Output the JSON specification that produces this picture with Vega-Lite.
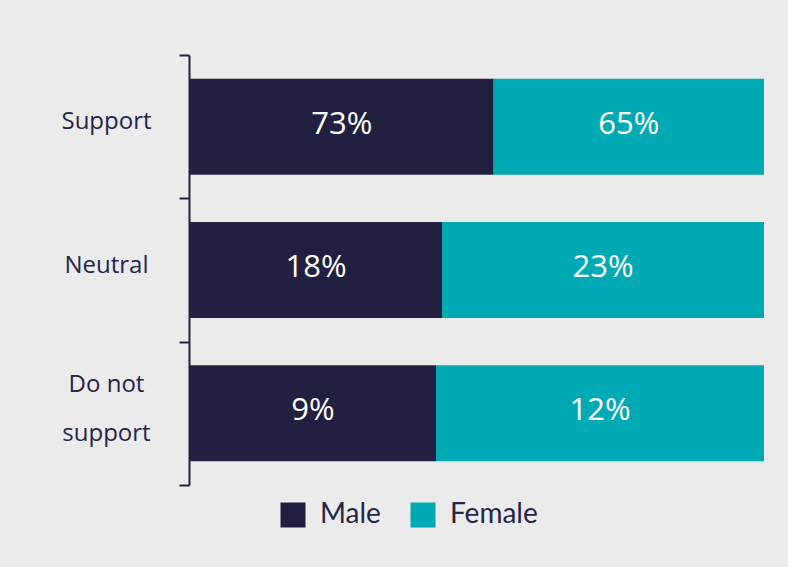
{
  "$schema": "https://vega.github.io/schema/vega-lite/v6.json",
  "autosize": "none",
  "width": 574,
  "height": 430,
  "padding": {"left": 190, "top": 55, "right": 24, "bottom": 82},
  "background": "#ebebeb",
  "config": {"view": {"stroke": null}},
  "data": {
    "values": [
      {"category": "Support", "gender": "Male", "value": 0.73},
      {"category": "Support", "gender": "Female", "value": 0.65},
      {"category": "Neutral", "gender": "Male", "value": 0.18},
      {"category": "Neutral", "gender": "Female", "value": 0.23},
      {"category": "Do not support", "gender": "Male", "value": 0.09},
      {"category": "Do not support", "gender": "Female", "value": 0.12}
    ]
  },
  "encoding": {
    "y": {
      "field": "category",
      "type": "nominal",
      "sort": ["Support", "Neutral", "Do not support"],
      "scale": {"paddingInner": 0, "paddingOuter": 0},
      "axis": {
        "title": null,
        "offset": 1,
        "domainColor": "#22223f",
        "domainWidth": 2,
        "tickColor": "#22223f",
        "tickWidth": 2,
        "tickSize": 10,
        "tickBand": "extent",
        "labelAlign": "center",
        "labelBaseline": "middle",
        "labelPadding": 73,
        "labelOffset": {"condition": {"test": "datum.value == 'Do not support'", "value": -29}, "value": -5},
        "labelFont": "Open Sans",
        "labelFontSize": 24,
        "labelColor": "#25254a",
        "labelLineHeight": 49,
        "labelExpr": "datum.value == 'Do not support' ? ['Do not', 'support'] : datum.value"
      }
    },
    "x": {
      "field": "value",
      "type": "quantitative",
      "stack": "normalize",
      "axis": null
    },
    "order": {"field": "gender", "sort": "descending"}
  },
  "layer": [
    {
      "mark": {"type": "bar", "height": {"band": 0.67}},
      "encoding": {
        "color": {
          "field": "gender",
          "type": "nominal",
          "sort": ["Male", "Female"],
          "scale": {"domain": ["Male", "Female"], "range": ["#212040", "#00aab4"]},
          "legend": {
            "title": null,
            "orient": "none",
            "direction": "horizontal",
            "legendX": 89,
            "legendY": 446,
            "padding": 0,
            "symbolType": "square",
            "symbolSize": 625,
            "symbolStrokeWidth": 0,
            "symbolOpacity": 1,
            "labelFont": "Lato",
            "labelFontSize": 28,
            "labelColor": "#25254a",
            "labelOffset": 13,
            "columnPadding": 28
          }
        }
      }
    },
    {
      "mark": {"type": "text", "color": "white", "font": "Open Sans", "fontSize": 31, "baseline": "middle", "dy": -2},
      "encoding": {
        "x": {
          "field": "value",
          "type": "quantitative",
          "stack": "normalize",
          "bandPosition": 0.5
        },
        "text": {"field": "value", "type": "quantitative", "format": ".0%"}
      }
    }
  ]
}
